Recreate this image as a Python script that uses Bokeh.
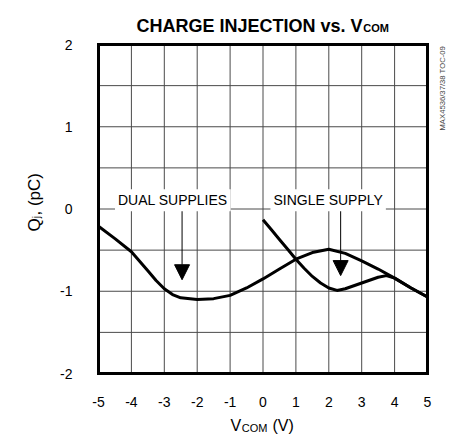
from bokeh.plotting import figure
from bokeh.models import Range1d, Label, Arrow, NormalHead
from bokeh.core.properties import value
from bokeh.embed import file_html
from bokeh.resources import INLINE
from math import pi

# ---- data ----
dual_x = [-5, -4.5, -4, -3.5, -3.25, -3, -2.75, -2.5, -2, -1.5, -1, -0.5, 0,
          0.5, 1, 1.5, 2, 2.5, 3, 3.5, 4, 4.5, 5]
dual_q = [-0.21, -0.36, -0.52, -0.75, -0.87, -0.97, -1.04, -1.08, -1.10, -1.09,
          -1.05, -0.96, -0.85, -0.73, -0.61, -0.53, -0.49, -0.54, -0.63, -0.73,
          -0.84, -0.96, -1.07]
single_x = [0, 0.25, 0.5, 0.75, 1, 1.25, 1.5, 1.75, 2, 2.25, 2.5, 3, 3.5, 3.75,
            4, 4.5, 5]
single_q = [-0.13, -0.25, -0.37, -0.49, -0.61, -0.72, -0.82, -0.90, -0.96,
            -0.99, -0.97, -0.90, -0.83, -0.81, -0.84, -0.96, -1.07]
x_ticks = [-5, -4, -3, -2, -1, 0, 1, 2, 3, 4, 5]
x_tick_labels = ["-5", "-4", "-3", "-2", "-1", "0", "1", "2", "3", "4", "5"]
y_ticks = [-2, -1, 0, 1, 2]
y_tick_labels = ["-2", "-1", "0", "1", "2"]
y_grid = [-2, -1.5, -1, -0.5, 0, 0.5, 1, 1.5, 2]

FONT = "Liberation Sans"

# layout of the chart area inside the canvas (pixels)
W, H = 452, 436
LEFT, RIGHT, TOP, BOTTOM = 98, 25, 44, 63
x0, x1 = min(x_ticks), max(x_ticks)
y0, y1 = min(y_ticks), max(y_ticks)
ppx = (W - LEFT - RIGHT) / (x1 - x0)
ppy = (H - TOP - BOTTOM) / (y1 - y0)

p = figure(width=W, height=H, output_backend="svg", toolbar_location=None,
           x_range=Range1d(x0 - LEFT / ppx, x1 + RIGHT / ppx),
           y_range=Range1d(y0 - BOTTOM / ppy, y1 + TOP / ppy),
           x_axis_location=None, y_axis_location=None, min_border=0)
p.outline_line_color = None
p.xgrid.visible = False
p.ygrid.visible = False
p.background_fill_color = "white"
p.border_fill_color = "white"

# grid
p.segment(x0=x_ticks, y0=[y0] * len(x_ticks), x1=x_ticks, y1=[y1] * len(x_ticks),
          line_color="#4a4a4a", line_width=1)
p.segment(x0=[x0] * len(y_grid), y0=y_grid, x1=[x1] * len(y_grid), y1=y_grid,
          line_color="#4a4a4a", line_width=1)

# curves
p.line(dual_x, dual_q, line_color="black", line_width=3, line_join="round")
p.line(single_x, single_q, line_color="black", line_width=3, line_join="round")

# frame
p.quad(left=x0, right=x1, bottom=y0, top=y1, fill_color=None,
       line_color="black", line_width=3, line_join="miter")

# tick labels
p.text(x=x_ticks, y=[y0] * len(x_ticks), text=x_tick_labels, y_offset=28,
       text_align="center", text_baseline="alphabetic",
       text_font=value(FONT), text_font_size="14px", text_color="black")
p.text(x=[x0] * len(y_ticks), y=y_ticks, text=y_tick_labels, x_offset=-26,
       text_align="right", text_baseline="middle",
       text_font=value(FONT), text_font_size="14px", text_color="black")

# arrows
for ax_x, tip in ((-2.46, -0.86), (2.36, -0.81)):
    p.add_layout(Arrow(end=NormalHead(size=15, fill_color="black", line_color="black"),
                       x_start=ax_x, y_start=0.08, x_end=ax_x, y_end=tip,
                       line_color="black", line_width=1))

# curve labels with white boxes
for txt, cx in (("DUAL SUPPLIES", -2.74), ("SINGLE SUPPLY", 1.98)):
    p.add_layout(Label(x=cx, y=0.105, text=txt, text_align="center",
                       text_baseline="alphabetic", text_font=FONT,
                       text_font_size="14px", text_color="black",
                       background_fill_color="white", padding=3))

# title
p.add_layout(Label(x=3.024, y=2.219, text="CHARGE INJECTION vs. V", text_align="right",
                   text_baseline="alphabetic", text_font=FONT, text_font_style="bold",
                   text_font_size="18px", text_color="black"))
p.add_layout(Label(x=3.05, y=2.195, text="COM", text_align="left",
                   text_baseline="alphabetic", text_font=FONT, text_font_style="bold",
                   text_font_size="11px", text_color="black"))

# x axis label
p.add_layout(Label(x=-0.988, y=-2.635, text="V", text_align="left",
                   text_baseline="alphabetic", text_font=FONT,
                   text_font_size="16px", text_color="black"))
p.add_layout(Label(x=-0.647, y=-2.66, text="COM", text_align="left",
                   text_baseline="alphabetic", text_font=FONT,
                   text_font_size="11px", text_color="black"))
p.add_layout(Label(x=0.289, y=-2.635, text="(V)", text_align="left",
                   text_baseline="alphabetic", text_font=FONT,
                   text_font_size="16px", text_color="black"))

# y axis label (rotated)
p.add_layout(Label(x=-6.96, y=-0.274, text="Q", angle=pi / 2, text_align="left",
                   text_baseline="alphabetic", text_font=FONT,
                   text_font_size="17px", text_color="black"))
p.add_layout(Label(x=-6.87, y=-0.113, text="j", angle=pi / 2, text_align="left",
                   text_baseline="alphabetic", text_font=FONT,
                   text_font_size="10px", text_color="black"))
p.add_layout(Label(x=-6.96, y=-0.079, text=", (pC)", angle=pi / 2, text_align="left",
                   text_baseline="alphabetic", text_font=FONT,
                   text_font_size="17px", text_color="black"))

# side reference code
p.add_layout(Label(x=5.456, y=0.954, text="MAX4536/37/38 TOC-09", angle=pi / 2,
                   text_align="left", text_baseline="alphabetic", text_font=FONT,
                   text_font_size="7.7px", text_color="#444444"))

open("out.html", "w").write(file_html(p, INLINE))
